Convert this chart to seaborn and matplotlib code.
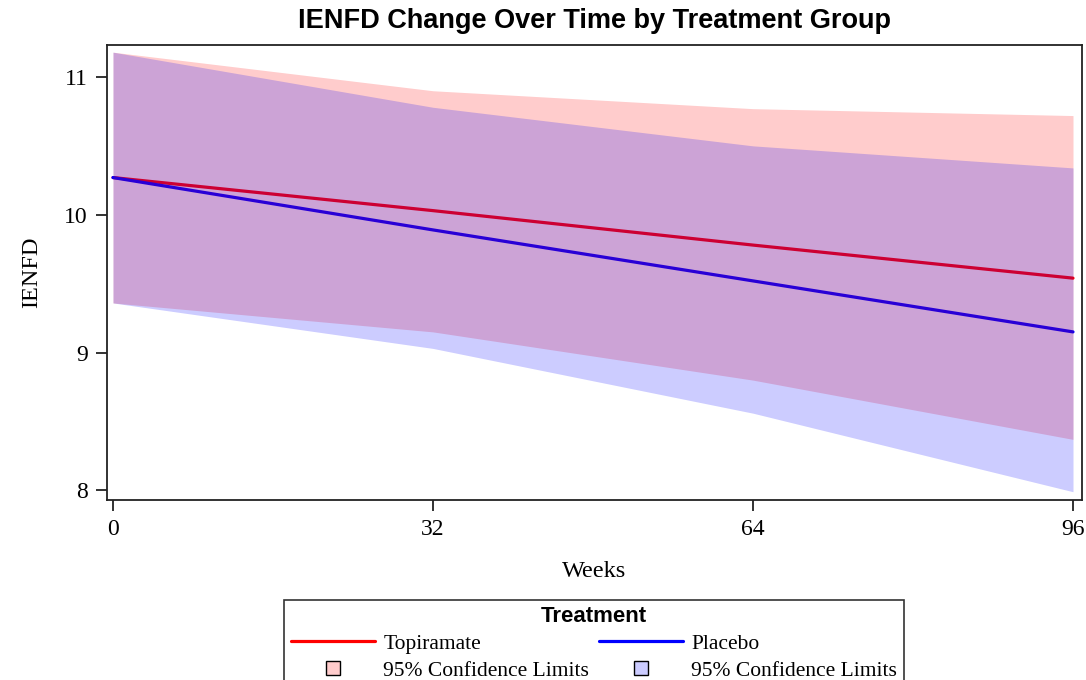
import numpy as np
import pandas as pd
import matplotlib
matplotlib.use("Agg")
import matplotlib.pyplot as plt
from matplotlib.lines import Line2D
import seaborn as sns

# Model estimates by week
weeks = [0, 32, 64, 96]
topiramate_mean = [10.27, 10.03, 9.78, 9.54]
topiramate_lower = [9.36, 9.15, 8.80, 8.37]
topiramate_upper = [11.18, 10.90, 10.77, 10.72]
placebo_mean = [10.27, 9.89, 9.52, 9.15]
placebo_lower = [9.36, 9.03, 8.56, 7.99]
placebo_upper = [11.18, 10.78, 10.50, 10.34]

groups = ["Topiramate", "Placebo"]
colors = {"Topiramate": "#FF0000", "Placebo": "#0000FF"}

df = pd.DataFrame({
    "Weeks": weeks * 2,
    "IENFD": topiramate_mean + placebo_mean,
    "lower": topiramate_lower + placebo_lower,
    "upper": topiramate_upper + placebo_upper,
    "Treatment": ["Topiramate"] * 4 + ["Placebo"] * 4,
})

sns.set_theme(style="white")
plt.rcParams["font.family"] = ["Liberation Serif", "DejaVu Serif"]
plt.rcParams["text.color"] = "black"
plt.rcParams["axes.labelcolor"] = "black"
plt.rcParams["xtick.color"] = "black"
plt.rcParams["ytick.color"] = "black"

fig = plt.figure(figsize=(10.86, 6.8), dpi=100)
ax = fig.add_axes([107 / 1086, 1 - 500 / 680, (1082 - 107) / 1086, (500 - 45) / 680])

sns.lineplot(data=df, x="Weeks", y="IENFD", hue="Treatment", palette=colors,
             linewidth=2.3, ax=ax, legend=False, zorder=2)

# Confidence bands drawn translucently over the lines
for g in groups:
    sub = df[df["Treatment"] == g]
    ax.fill_between(sub["Weeks"], sub["lower"], sub["upper"], color=colors[g],
                    alpha=0.2, linewidth=0, zorder=3)

ax.set_xlim(-0.6, 96.9)
ax.set_ylim(7.93, 11.232)
ax.set_xticks(weeks)
ax.set_yticks([8, 9, 10, 11])
ax.tick_params(axis="both", which="major", direction="out", length=8, width=1.3,
               color="#222222", labelcolor="black", labelsize=17, pad=6,
               left=True, bottom=True)
for s in ax.spines.values():
    s.set_color("#222222")
    s.set_linewidth(1.3)

ax.set_xlabel("Weeks", fontsize=17.5, labelpad=15)
ax.set_ylabel("IENFD", fontsize=17.5, labelpad=16)

fig.text(594 / 1086, 1 - 21 / 680, "IENFD Change Over Time by Treatment Group",
         ha="center", va="center", fontsize=19.5, fontweight="bold", color="black",
         family=["Liberation Sans", "DejaVu Sans"])

handles = [
    Line2D([], [], color=colors["Topiramate"], lw=2.3),
    Line2D([], [], ls="none", marker="s", markersize=9.5,
           markerfacecolor=(1, 0.8, 0.8), markeredgecolor="black", markeredgewidth=1),
    Line2D([], [], color=colors["Placebo"], lw=2.3),
    Line2D([], [], ls="none", marker="s", markersize=9.5,
           markerfacecolor=(0.8, 0.8, 1), markeredgecolor="black", markeredgewidth=1),
]
labels = ["Topiramate", "95% Confidence Limits", "Placebo", "95% Confidence Limits"]
leg = fig.legend(handles, labels, ncol=2, loc="upper center",
                 bbox_to_anchor=(594 / 1086, 1 - 600 / 680), borderaxespad=0,
                 title="Treatment", fontsize=15.5,
                 title_fontproperties={"family": "Liberation Sans", "weight": "bold", "size": 16},
                 frameon=True, fancybox=False, edgecolor="black", handlelength=3.9,
                 handletextpad=0.4, columnspacing=0.45, labelspacing=0.3,
                 borderpad=0.3)
leg.get_frame().set_linewidth(1.2)
for t in leg.get_texts():
    t.set_color("black")
leg.get_title().set_color("black")

fig.savefig("out.png", dpi=100)
